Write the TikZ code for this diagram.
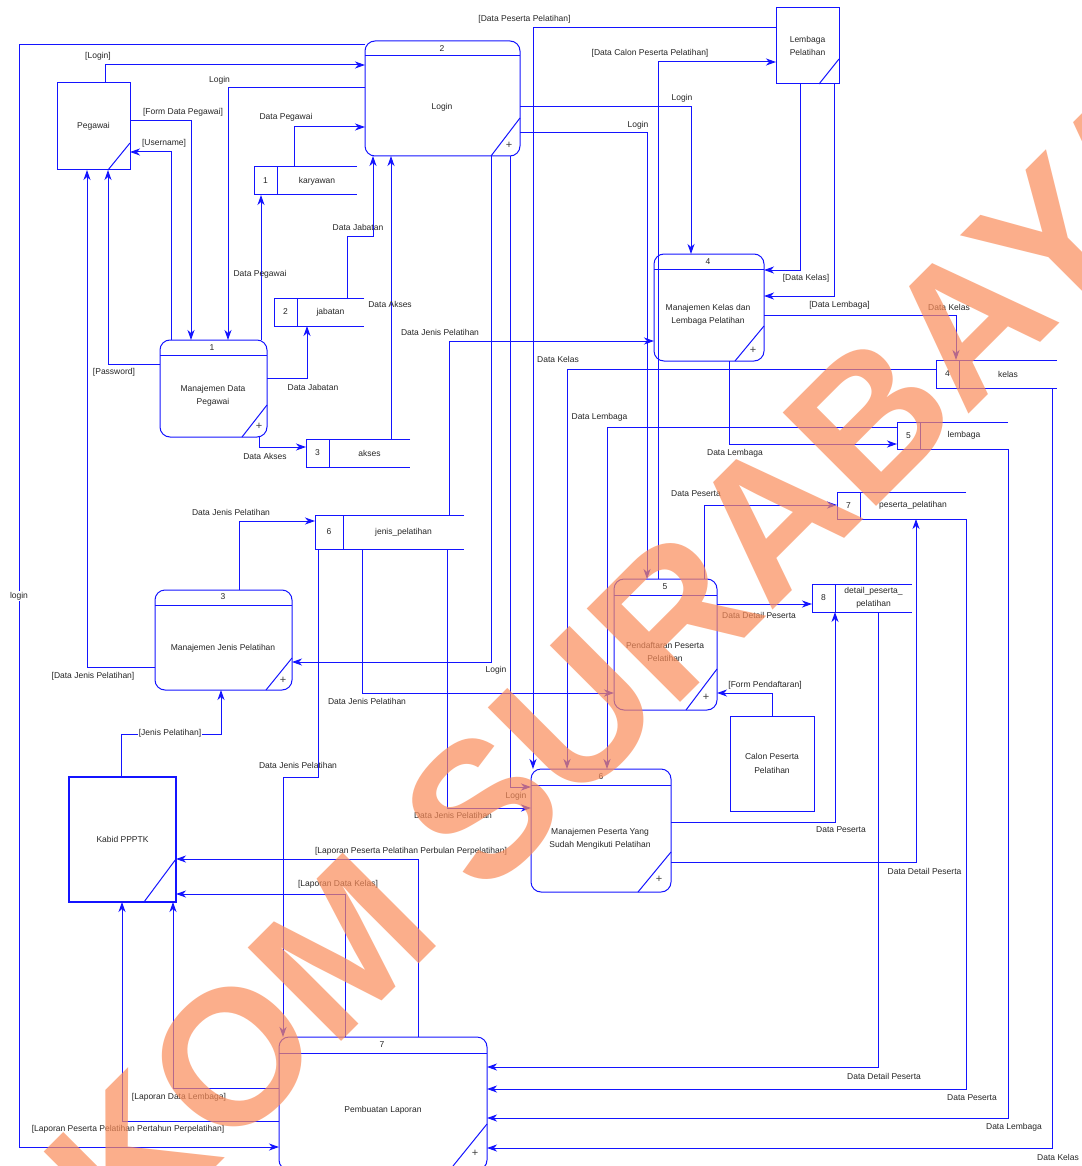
\documentclass[tikz,border=0pt]{standalone}
\usepackage{fontspec}
\setmainfont{Liberation Sans}
\usetikzlibrary{arrows.meta,calc}
\definecolor{lncol}{RGB}{20,20,255}
\definecolor{wmc}{RGB}{250,140,90}
\tikzset{
 ln/.style={draw=lncol, line width=1pt},
 flow/.style={ln, -{Stealth[length=10pt,width=7pt,inset=3pt]}},
 lbl/.style={font=\fontsize{8.5}{10}\selectfont, text=black!85, inner sep=1pt},
 lblw/.style={lbl, fill=white},
 proc/.style={ln, rounded corners=10pt, inner sep=0pt, outer sep=0pt},
 ext/.style={ln, inner sep=0pt, outer sep=0pt, font=\fontsize{8.5}{13.5}\selectfont, align=center, text=black!85},
 ptext/.style={font=\fontsize{8.5}{13.5}\selectfont, align=center, inner sep=0pt, text=black!85},
 plus/.style={font=\fontsize{11}{11}\selectfont, inner sep=0pt, text=black!75},
}
\newcommand{\mystore}[8]{%
 \node[minimum width={#4-#2}, minimum height={#5-#3}, inner sep=0pt, outer sep=0pt] (#1) at ({(#2+#4)/2},{(#3+#5)/2}) {};
 \draw[ln] (#4,#3) -- (#2,#3) -- (#2,#5) -- (#4,#5);
 \draw[ln] (#6,#3) -- (#6,#5);
 \node[ptext] at ({(#2+#6)/2},{(#3+#5)/2}) {#7};
 \node[ptext] at ({(#6+#4)/2},{(#3+#5)/2}) {#8};
}
\begin{document}
\begin{tikzpicture}[x=1pt,y=-1pt]
\fill[white] (0,0) rectangle (1081,1166);
\useasboundingbox (0,0) rectangle (1081,1166);

% ---------- external entities
\node[ext, minimum width=73, minimum height=87] (peg) at (93.5,126.5) {Pegawai};
\draw[ln] (peg.east |- 0,143) -- (peg.south -| 108,0);
\node[ext, minimum width=63, minimum height=76] (lem) at (807.5,46) {Lembaga\\Pelatihan};
\draw[ln] (lem.east |- 0,59) -- (lem.south -| 819,0);
\node[ext, line width=1.6pt, minimum width=107, minimum height=125] (kab) at (122.5,839.5) {Kabid PPPTK};
\draw[ln] (kab.east |- 0,859) -- (kab.south -| 144,0);
\node[ext, minimum width=84, minimum height=95] (cal) at (772,763.5) {Calon Peserta\\Pelatihan};

% ---------- processes
\node[proc, minimum width=107, minimum height=97] (p1) at (213.5,388.5) {};
\draw[ln] (p1.west |- 0,355) -- (p1.east |- 0,355);
\draw[ln] (p1.east |- 0,405) -- (p1.south -| 242,0);
\node[ptext] at (212,348) {1};
\node[ptext] at (213,396) {Manajemen Data\\Pegawai};
\node[plus] at (259,426) {+};

\node[proc, minimum width=155, minimum height=115] (p2) at (442.5,98.5) {};
\draw[ln] (p2.west |- 0,56) -- (p2.east |- 0,56);
\draw[ln] (p2.east |- 0,118) -- (p2.south -| 491,0);
\node[ptext] at (442,48.5) {2};
\node[ptext] at (442,107) {Login};
\node[plus] at (509,145) {+};

\node[proc, minimum width=137, minimum height=100] (p3) at (223.5,640) {};
\draw[ln] (p3.west |- 0,605) -- (p3.east |- 0,605);
\draw[ln] (p3.east |- 0,658) -- (p3.south -| 266,0);
\node[ptext] at (223,597) {3};
\node[ptext] at (223,648) {Manajemen Jenis Pelatihan};
\node[plus] at (283,680) {+};

\node[proc, minimum width=110, minimum height=107] (p4) at (709,307.5) {};
\draw[ln] (p4.west |- 0,269) -- (p4.east |- 0,269);
\draw[ln] (p4.east |- 0,326) -- (p4.south -| 735,0);
\node[ptext] at (708,261.5) {4};
\node[ptext] at (708,315) {Manajemen Kelas dan\\Lembaga Pelatihan};
\node[plus] at (753,350) {+};

\node[proc, minimum width=103, minimum height=131] (p5) at (665.5,644.5) {};
\draw[ln] (p5.west |- 0,595) -- (p5.east |- 0,595);
\draw[ln] (p5.east |- 0,669) -- (p5.south -| 686,0);
\node[ptext] at (665,587) {5};
\node[ptext] at (665,652) {Pendaftaran Peserta\\Pelatihan};
\node[plus] at (706,697) {+};

\node[proc, minimum width=140, minimum height=123] (p6) at (601,830.5) {};
\draw[ln] (p6.west |- 0,785) -- (p6.east |- 0,785);
\draw[ln] (p6.east |- 0,852) -- (p6.south -| 638,0);
\node[ptext] at (601,777) {6};
\node[ptext] at (600,839) {Manajemen Peserta Yang\\Sudah Mengikuti Pelatihan};
\node[plus] at (659,879) {+};

\node[proc, minimum width=208, minimum height=133] (p7) at (383,1103.5) {};
\draw[ln] (p7.west |- 0,1053) -- (p7.east |- 0,1053);
\draw[ln] (p7.east |- 0,1124) -- (453,1166);
\node[ptext] at (382,1045) {7};
\node[ptext] at (383,1110) {Pembuatan Laporan};
\node[plus] at (475,1153) {+};

% ---------- data stores
\mystore{s1}{254}{167}{357}{195}{277}{1}{karyawan}
\mystore{s2}{274}{298}{364}{326}{297}{2}{jabatan}
\mystore{s3}{306}{439}{410}{467}{329}{3}{akses}
\mystore{s6}{315}{515}{464}{549}{343}{6}{jenis\_pelatihan}
\mystore{s4}{936}{360}{1057}{388}{959}{4}{kelas}
\mystore{s5}{897}{422}{1008}{449}{920}{5}{lembaga}
\mystore{s7}{837}{492}{966}{519}{860}{7}{peserta\_pelatihan}
\mystore{s8}{812}{584}{912}{612}{835}{8}{detail\_peserta\_\\pelatihan}

% ---------- flows
\draw[flow] (p2.west |- 0,45) -- (19,45) -- (19,1147) -- (p7.west |- 0,1147);
\node[lblw] at (19,596) {login};
\draw[flow] (peg.north -| 105,0) |- (p2.west |- 0,65);
\node[lbl] at (98,56) {[Login]};
\draw[flow] (p2.west |- 0,88) -| (p1.north -| 228,0);
\node[lbl] at (219.5,80) {Login};
\draw[flow] (peg.east |- 0,121) -| (p1.north -| 191,0);
\node[lbl] at (183,112) {[Form Data Pegawai]};
\draw[flow] (p1.north -| 171,0) |- (peg.east |- 0,152);
\node[lbl] at (164,143) {[Username]};
\draw[flow] (p1.west |- 0,364) -| (peg.south -| 108,0);
\node[lbl] at (114,372) {[Password]};
\draw[flow] (p3.west |- 0,667) -| (peg.south -| 87,0);
\node[lbl] at (93,676) {[Data Jenis Pelatihan]};
\draw[flow] (p1.north -| 261,0) -- (s1.south -| 261,0);
\node[lbl] at (260,274) {Data Pegawai};
\draw[flow] (s1.north -| 294,0) |- (p2.west |- 0,127);
\node[lbl] at (286,117.5) {Data Pegawai};
\draw[flow] (s2.north -| 347,0) -- (347,237) -- (373,237) -- (p2.south -| 373,0);
\node[lbl] at (358,227) {Data Jabatan};
\draw[flow] (s3.north -| 391,0) -- (p2.south -| 391,0);
\node[lbl] at (390,304) {Data Akses};
\draw[flow] (p1.east |- 0,378) -| (s2.south -| 307,0);
\node[lbl] at (313,387) {Data Jabatan};
\draw[flow] (p1.south -| 259,0) |- (s3.west |- 0,447);
\node[lbl] at (265,456) {Data Akses};
\draw[flow] (p3.north -| 239,0) |- (s6.west |- 0,521);
\node[lbl] at (231,512) {Data Jenis Pelatihan};
\draw[flow] (kab.north -| 121,0) -- (121,734) -- (221,734) -- (p3.south -| 221,0);
\node[lblw] at (170,733) {[Jenis Pelatihan]};
\draw[flow] (p2.south -| 491,0) |- (p3.east |- 0,662);
\node[lbl] at (496,670) {Login};
\draw[flow] (p2.south -| 510,0) |- (p6.west |- 0,787);
\node[lbl] at (516,796) {Login};
\draw[flow] (lem.west |- 0,28) -| (p6.north -| 533,0);
\node[lbl] at (524.5,19) {[Data Peserta Pelatihan]};
\draw[flow] (p2.east |- 0,107) -| (p4.north -| 691,0);
\node[lbl] at (682,98) {Login};
\draw[flow] (p2.east |- 0,133) -| (p5.north -| 647,0);
\node[lbl] at (638,125) {Login};
\draw[flow] (p5.north -| 658,0) |- (lem.west |- 0,62);
\node[lbl] at (650,53) {[Data Calon Peserta Pelatihan]};
\draw[flow] (lem.south -| 800,0) |- (p4.east |- 0,270);
\node[lbl] at (806,278) {[Data Kelas]};
\draw[flow] (lem.south -| 834,0) |- (p4.east |- 0,296);
\node[lbl] at (839.5,305) {[Data Lembaga]};
\draw[flow] (p4.east |- 0,315) -| (s4.north -| 956,0);
\node[lbl] at (949,307) {Data Kelas};
\draw[flow] (s6.north -| 449,0) |- (p4.west |- 0,341);
\node[lbl] at (440,332) {Data Jenis Pelatihan};
\draw[flow] (p4.south -| 729,0) |- (s5.west |- 0,444);
\node[lbl] at (735,453) {Data Lembaga};
\draw[flow] (s4.west |- 0,369) -| (p6.north -| 567,0);
\node[lbl] at (558,359) {Data Kelas};
\draw[flow] (s4.south -| 1052,0) |- (p7.east |- 0,1148);
\node[lbl] at (1058,1157) {Data Kelas};
\draw[flow] (s5.west |- 0,427) -| (p6.north -| 607,0);
\node[lbl] at (599.5,417) {Data Lembaga};
\draw[flow] (s5.south east) |- (p7.east |- 0,1118);
\node[lbl] at (1014,1127) {Data Lembaga};
\draw[flow] (p5.north -| 704,0) |- (s7.west |- 0,505);
\node[lbl] at (696,494) {Data Peserta};
\draw[flow] (s7.south east) |- (p7.east |- 0,1089);
\node[lbl] at (972,1098) {Data Peserta};
\draw[flow] (p6.east |- 0,862) -| (s7.south -| 916,0);
\node[lbl] at (924.5,871) {Data Detail Peserta};
\draw[flow] (p5.east |- 0,604) -- (s8.west |- 0,604);
\node[lbl] at (759,615) {Data Detail Peserta};
\draw[flow] (p6.east |- 0,822) -| (s8.south -| 835,0);
\node[lbl] at (841,830) {Data Peserta};
\draw[flow] (s8.south -| 878,0) |- (p7.east |- 0,1067);
\node[lbl] at (884,1076) {Data Detail Peserta};
\draw[flow] (cal.north -| 772,0) |- (p5.east |- 0,693);
\node[lbl] at (765,685) {[Form Pendaftaran]};
\draw[flow] (s6.south -| 362,0) |- (p5.west |- 0,693);
\node[lbl] at (367,701) {Data Jenis Pelatihan};
\draw[flow] (s6.south -| 447,0) |- (p6.west |- 0,808);
\node[lbl] at (453,815) {Data Jenis Pelatihan};
\draw[flow] (s6.south -| 318,0) -- (318,777) -- (283,777) -- (p7.north -| 283,0);
\node[lbl] at (298,765) {Data Jenis Pelatihan};
\draw[flow] (p7.north -| 418,0) |- (kab.east |- 0,859);
\node[lbl] at (411,851) {[Laporan Peserta Pelatihan Perbulan Perpelatihan]};
\draw[flow] (p7.north -| 345,0) |- (kab.east |- 0,894);
\node[lbl] at (338,884) {[Laporan Data Kelas]};
\draw[flow] (p7.west |- 0,1088) -| (kab.south -| 173,0);
\node[lbl] at (179,1097) {[Laporan Data Lembaga]};
\draw[flow] (p7.west |- 0,1121) -| (kab.south -| 122,0);
\node[lbl] at (128,1129) {[Laporan Peserta Pelatihan Pertahun Perpelatihan]};

% ---------- watermark
\node[rotate=45, text=wmc, opacity=0.7, inner sep=0pt,
      font=\fontsize{192}{192}\selectfont\bfseries] at (526,764) {STIKOM SURABAYA};
\end{tikzpicture}
\end{document}
